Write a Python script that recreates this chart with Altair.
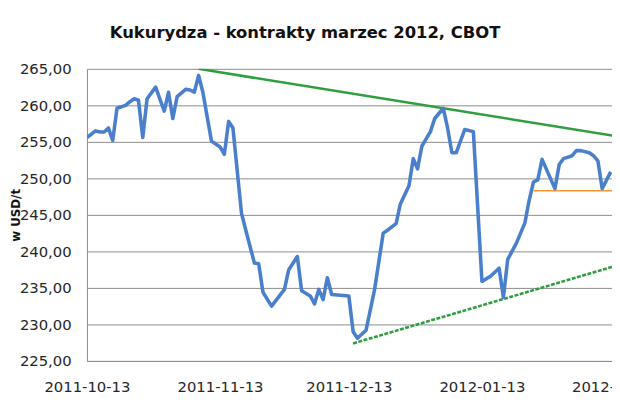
import altair as alt
import pandas as pd

# ---- data ----
dates = [
    "2011-10-13", "2011-10-15", "2011-10-16", "2011-10-17", "2011-10-18", "2011-10-19",
    "2011-10-20", "2011-10-22", "2011-10-23", "2011-10-24", "2011-10-25", "2011-10-26",
    "2011-10-27", "2011-10-29", "2011-10-31", "2011-11-01", "2011-11-02", "2011-11-03",
    "2011-11-05", "2011-11-06", "2011-11-07", "2011-11-08", "2011-11-09", "2011-11-11",
    "2011-11-13", "2011-11-14", "2011-11-15", "2011-11-16", "2011-11-18", "2011-11-19",
    "2011-11-21", "2011-11-22", "2011-11-23", "2011-11-25", "2011-11-28", "2011-11-29",
    "2011-12-01", "2011-12-02", "2011-12-04", "2011-12-05", "2011-12-06", "2011-12-07",
    "2011-12-08", "2011-12-09", "2011-12-11", "2011-12-13", "2011-12-14", "2011-12-15",
    "2011-12-17", "2011-12-19", "2011-12-21", "2011-12-22", "2011-12-24", "2011-12-25",
    "2011-12-27", "2011-12-28", "2011-12-29", "2011-12-30", "2012-01-01", "2012-01-02",
    "2012-01-04", "2012-01-05", "2012-01-06", "2012-01-07", "2012-01-08", "2012-01-09",
    "2012-01-11", "2012-01-13", "2012-01-15", "2012-01-17", "2012-01-18", "2012-01-19",
    "2012-01-21", "2012-01-22", "2012-01-23", "2012-01-24", "2012-01-25", "2012-01-26",
    "2012-01-27", "2012-01-30", "2012-01-31", "2012-02-01", "2012-02-03", "2012-02-04",
    "2012-02-05", "2012-02-07", "2012-02-08", "2012-02-09", "2012-02-10", "2012-02-12",
]
prices = [
    255.6, 256.5, 256.35, 256.35, 256.9, 255.2,
    259.6, 260.0, 260.5, 260.9, 260.7, 255.6,
    260.9, 262.5, 259.2, 261.8, 258.2, 261.2,
    262.2, 262.1, 261.8, 264.1, 261.8, 255.1,
    254.3, 253.3, 257.8, 256.9, 245.2, 242.9,
    238.4, 238.3, 234.4, 232.5, 234.8, 237.5,
    239.3, 234.6, 233.9, 232.8, 234.8, 233.4,
    236.4, 234.1, 234.0, 233.9, 229.0, 228.1,
    229.2, 234.8, 242.5, 242.9, 243.8, 246.5,
    249.0, 252.7, 251.3, 254.4, 256.4, 258.2,
    259.6, 256.9, 253.5, 253.5, 255.1, 256.7,
    256.4, 235.9, 236.6, 237.7, 233.7, 238.9,
    241.1, 242.5, 243.9, 247.0, 249.5, 249.8,
    252.6, 248.6, 251.9, 252.7, 253.1, 253.8,
    253.8, 253.5, 253.1, 252.4, 248.6, 250.9,
]

upper_dates = ["2011-11-08", "2012-02-13"]
upper_vals = [265.0, 255.8]
lower_dates = ["2011-12-14", "2012-02-13"]
lower_vals = [227.4, 238.0]
support_dates = ["2012-01-25", "2012-02-13"]
support_vals = [248.3, 248.3]

x_ticks = ["2011-10-13", "2011-11-13", "2011-12-13", "2012-01-13"]
x_tick_beyond = ["2012-02-13"]
y_ticks = [225, 230, 235, 240, 245, 250, 255, 260, 265]

title_text = "Kukurydza - kontrakty marzec 2012, CBOT"
y_title = "w USD/t"

# ---- build ----
def dt(s, hours=0):
    return alt.DateTime(year=int(s[:4]), month=int(s[5:7]), date=int(s[8:10]), hours=hours)

main_df = pd.DataFrame({"date": pd.to_datetime(dates), "value": prices})
upper_df = pd.DataFrame({"date": pd.to_datetime(upper_dates), "value": upper_vals})
lower_df = pd.DataFrame({"date": pd.to_datetime(lower_dates), "value": lower_vals})
support_df = pd.DataFrame({"date": pd.to_datetime(support_dates), "value": support_vals})
lab_df = pd.DataFrame({"date": pd.to_datetime(x_tick_beyond), "lab": x_tick_beyond})

FONT = "DejaVu Sans"
LABEL_COLOR = "#262626"
GRID = "#8c8c8c"
PW, PH = 532, 296

x_scale = alt.Scale(domain=[dt("2011-10-13"), dt("2012-02-12", hours=7)])
y_scale = alt.Scale(domain=[225, 265], nice=False, zero=False)

x_enc = alt.X(
    "date:T",
    scale=x_scale,
    axis=alt.Axis(
        values=[dt(s) for s in x_ticks],
        tickCount=20,
        format="%Y-%m-%d",
        grid=False,
        ticks=False,
        tickSize=0,
        domain=True,
        domainColor=GRID,
        labelFlush=False,
        labelOverlap=False,
        labelBound=False,
        labelFont=FONT,
        labelFontSize=15,
        labelColor=LABEL_COLOR,
        labelPadding=19,
        labelBaseline="top",
        title=None,
    ),
)
y_enc = alt.Y(
    "value:Q",
    scale=y_scale,
    axis=alt.Axis(
        values=y_ticks,
        tickCount=20,
        labelExpr="replace(format(datum.value, '.2f'), '.', ',')",
        labelOverlap=False,
        grid=True,
        gridColor=GRID,
        gridWidth=1,
        ticks=False,
        tickSize=0,
        domain=True,
        domainColor=GRID,
        labelFont=FONT,
        labelFontSize=15,
        labelColor=LABEL_COLOR,
        labelPadding=16,
        title=y_title,
        titleFont=FONT,
        titleFontSize=12,
        titleFontWeight="bold",
        titleColor="#111111",
        titleAngle=270,
        titleX=-65,
        titleY=PH / 2,
        titleAlign="center",
        titleBaseline="bottom",
    ),
)

main = alt.Chart(main_df).mark_line(
    color="#4a7fcb", strokeWidth=3.6, clip=True, strokeJoin="round"
).encode(x=x_enc, y=y_enc)

upper = alt.Chart(upper_df).mark_line(
    color="#2f9e3f", strokeWidth=2.6, clip=True
).encode(x="date:T", y="value:Q")

lower = alt.Chart(lower_df).mark_line(
    color="#2f9e3f", strokeWidth=2.6, strokeDash=[4, 1.5], clip=True
).encode(x="date:T", y="value:Q")

support = alt.Chart(support_df).mark_line(
    color="#f29a2e", strokeWidth=1.6, clip=True
).encode(x="date:T", y="value:Q")

beyond_label = alt.Chart(lab_df).mark_text(
    align="center", baseline="top", font=FONT, fontSize=15, color=LABEL_COLOR
).encode(x="date:T", y=alt.value(PH + 19), text="lab:N")

chart = (
    alt.layer(upper, lower, support, main, beyond_label)
    .properties(
        width=PW,
        height=PH,
        autosize=alt.AutoSizeParams(type="none"),
        padding={"left": 80, "top": 59, "right": 0, "bottom": 42},
        background="white",
        title=alt.TitleParams(
            title_text,
            font=FONT,
            fontSize=16.6,
            fontWeight="bold",
            color="#111111",
            anchor="middle",
            dx=-45,
            offset=8,
            baseline="alphabetic",
        ),
    )
    .configure_view(stroke=None)
)

chart.save("out.html", embed_options={"renderer": "svg", "actions": False})
